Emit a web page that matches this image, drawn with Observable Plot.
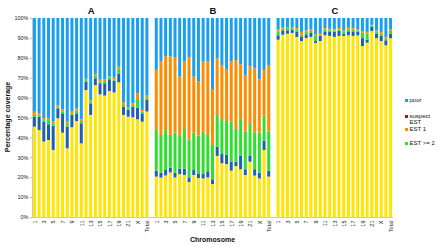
<!DOCTYPE html>
<html><head><meta charset="utf-8">
<script src="https://cdn.jsdelivr.net/npm/d3@7"></script>
<script src="https://cdn.jsdelivr.net/npm/@observablehq/plot@0.6"></script>
<style>
body{margin:0;background:#fff;}
#wrap{position:relative;width:440px;height:246px;font-family:"Liberation Sans",Arial,sans-serif;overflow:hidden;}
.lg{position:absolute;font-size:6px;line-height:6px;color:#111;white-space:nowrap;}
.sw{position:absolute;width:3px;height:3px;}
.ax{position:absolute;font-size:7px;font-weight:bold;color:#111;white-space:nowrap;}
</style></head><body><div id="wrap"></div>
<script>
const categories = ["1","2","3","4","5","6","7","8","9","10","11","12","13","14","15","16","17","18","19","20","21","22","X","Y","Total"];
const xTickLabels = ["1","3","5","7","9","11","13","15","17","19","21","X","Total"];
const yTicks = [0,10,20,30,40,50,60,70,80,90,100];
const panels = ["A","B","C"];
const seriesNames = ["good","moderate","EST >= 2","EST 1","poor"];
const seriesColors = ["#FFE500","#1F5FAF","#2EE02E","#FF8C00","#1A9FF0"];

const A_good = [45.4,43.7,37.9,38.7,33.7,49.6,42.4,34.5,45.1,48.2,37.0,63.8,51.3,66.3,61.6,61.0,63.3,62.6,67.7,51.3,50.4,50.1,49.1,47.9,53.0];
const A_moderate = [5.0,6.7,10.0,7.9,12.2,5.0,9.7,10.9,6.2,3.9,10.1,4.2,5.8,3.4,5.6,6.2,5.9,5.9,4.2,4.1,3.4,5.3,5.9,4.2,5.8];
const A_est2 = [0.9,0.9,0.8,2.1,1.2,0.5,0.8,1.3,0.8,1.3,1.1,0.8,0.9,1.2,0.8,1.1,0.8,0.7,2.0,0.9,0.9,0.9,3.8,0.9,1.4];
const A_est1 = [1.6,0.8,0.9,0.9,0.8,1.0,1.2,1.2,0.8,1.2,0.9,0.7,0.8,1.0,1.0,0.9,0.5,0.8,1.6,1.3,0.6,0.8,3.4,0.8,1.1];
const A_poor = [47.1,47.9,50.4,50.4,52.1,43.9,45.9,52.1,47.1,45.4,50.9,30.5,41.2,28.1,31.0,30.8,29.5,30.0,24.5,42.4,44.7,42.9,37.8,46.2,38.7];

const B_good = [20.3,19.8,20.9,22.4,19.9,21.6,21.1,17.6,21.1,19.6,19.4,19.9,16.6,30.7,27.0,26.6,23.3,25.6,24.0,21.1,27.8,20.8,19.4,33.7,20.3];
const B_moderate = [3.0,2.5,2.7,2.4,2.4,2.7,3.2,2.3,2.5,2.3,2.5,3.1,2.3,4.6,4.7,4.6,4.5,2.2,6.7,2.9,2.9,3.2,2.9,4.7,3.0];
const B_est2 = [20.4,18.9,20.1,16.4,20.2,16.4,19.9,19.1,18.8,19.1,21.0,18.2,17.3,16.0,17.0,17.0,20.1,16.4,18.5,18.9,16.0,18.5,20.1,12.5,19.6];
const B_est1 = [30.2,37.2,37.2,39.4,37.6,29.8,34.2,41.1,28.1,27.3,35.2,36.9,28.1,28.4,27.7,26.2,30.2,34.7,27.5,28.5,29.2,32.2,26.8,23.0,33.5];
const B_poor = [26.1,21.6,19.1,19.4,19.9,29.5,21.6,19.9,29.5,31.7,21.9,21.9,35.7,20.3,23.6,25.6,21.9,21.1,23.3,28.6,24.1,25.3,30.8,26.1,23.6];

const C_good = [89.1,91.6,92.1,92.5,90.5,88.4,89.9,90.5,87.4,88.4,91.3,91.0,90.5,91.0,91.0,91.3,91.0,91.3,85.9,87.6,93.5,89.9,88.4,86.3,89.9];
const C_moderate = [2.2,2.2,1.7,1.6,2.5,2.1,1.9,2.0,1.0,2.6,2.0,2.3,2.5,2.5,1.1,2.0,2.3,1.7,4.0,1.5,2.0,2.2,2.6,2.5,2.2];
const C_est2 = [2.0,0.8,1.2,0.9,1.1,1.1,1.2,1.0,2.6,0.3,1.0,0.5,0.8,0.8,0.9,1.0,1.0,0.8,2.7,3.0,0.6,0.9,1.1,0.8,1.4];
const C_est1 = [1.0,0.5,0.5,0.5,0.9,1.4,0.8,0.8,0.8,0.8,0.7,0.8,0.5,0.7,0.8,0.8,0.7,0.5,0.7,0.9,0.5,0.8,0.9,0.9,0.8];
const C_poor = [5.7,4.9,4.5,4.5,5.0,7.0,6.2,5.7,8.2,7.9,5.0,5.4,5.7,5.0,6.2,4.9,5.0,5.7,6.7,7.0,3.4,6.2,7.0,9.5,5.7];

const legendNames = ["poor","suspect\nEST","EST 1","EST >= 2"];
const legendColors = ["#1A9FF0","#B01010","#FF8C00","#2EE02E"];

const values = {
  A: [A_good, A_moderate, A_est2, A_est1, A_poor],
  B: [B_good, B_moderate, B_est2, B_est1, B_poor],
  C: [C_good, C_moderate, C_est2, C_est1, C_poor]
};
const key = (p, c) => p + "|" + c;
// x domain: three groups of chromosomes separated by one empty slot
const xDomain = [];
panels.forEach((p, pi) => {
  if (pi > 0) xDomain.push("gap" + pi);
  categories.forEach(c => xDomain.push(key(p, c)));
});
const xTicks = [];
panels.forEach(p => xTickLabels.forEach(c => xTicks.push(key(p, c))));

const rows = [];
panels.forEach(p => seriesNames.forEach((s, si) => categories.forEach((c, i) => {
  rows.push({panel: p, chrom: key(p, c), series: s, value: values[p][si][i]});
})));
const titleAnchor = categories[12];

const chart = Plot.plot({
  width: 440, height: 246,
  marginLeft: 32, marginRight: 47, marginTop: 18, marginBottom: 29,
  style: {fontFamily: "Liberation Sans, Arial, sans-serif", background: "#fff", color: "#222"},
  x: {domain: xDomain, paddingInner: 0.36, paddingOuter: 0.2, label: null},
  y: {domain: [0, 100], label: null},
  color: {domain: seriesNames, range: seriesColors},
  marks: [
    Plot.axisX({ticks: xTicks, tickFormat: k => k.split("|")[1], tickRotate: -90, tickSize: 0, tickPadding: 3, fontSize: 5.5, label: null}),
    Plot.axisY({ticks: yTicks, tickFormat: d => d + "%", tickSize: 2, tickPadding: 2, fontSize: 5.5, label: null, stroke: "#bbb"}),
    Plot.barY(rows, {x: "chrom", y: "value", fill: "series", order: seriesNames}),
    Plot.ruleY([0], {stroke: "#c8c8c8"}),
    Plot.frame({anchor: "left", stroke: "#c8c8c8"}),
    Plot.text(panels, {x: p => key(p, titleAnchor), text: p => p, frameAnchor: "top", dy: -11, fontSize: 9.5, fontWeight: "bold", fill: "#111"})
  ]
});
const wrap = document.getElementById("wrap");
wrap.appendChild(chart);

// axis titles
const xt = document.createElement("div");
xt.className = "ax"; xt.textContent = "Chromosome";
xt.style.left = "32px"; xt.style.width = "361px"; xt.style.textAlign = "center"; xt.style.top = "236px";
wrap.appendChild(xt);
const yt = document.createElement("div");
yt.className = "ax"; yt.textContent = "Percentage coverage";
yt.style.left = "7px"; yt.style.top = "117px";
yt.style.transform = "translate(-50%,-50%) rotate(-90deg)";
wrap.appendChild(yt);

// legend
const legendY = [100, 116, 129, 143];
legendNames.forEach((n, i) => {
  const sw = document.createElement("div");
  sw.className = "sw"; sw.style.background = legendColors[i];
  sw.style.left = "405px"; sw.style.top = (legendY[i] - 1.5) + "px";
  wrap.appendChild(sw);
  n.split("\n").forEach((t, j) => {
    const tx = document.createElement("div");
    tx.className = "lg"; tx.textContent = t;
    tx.style.left = "409.5px"; tx.style.top = (legendY[i] - 3 + j * 6) + "px";
    wrap.appendChild(tx);
  });
});
</script>
</body></html>
